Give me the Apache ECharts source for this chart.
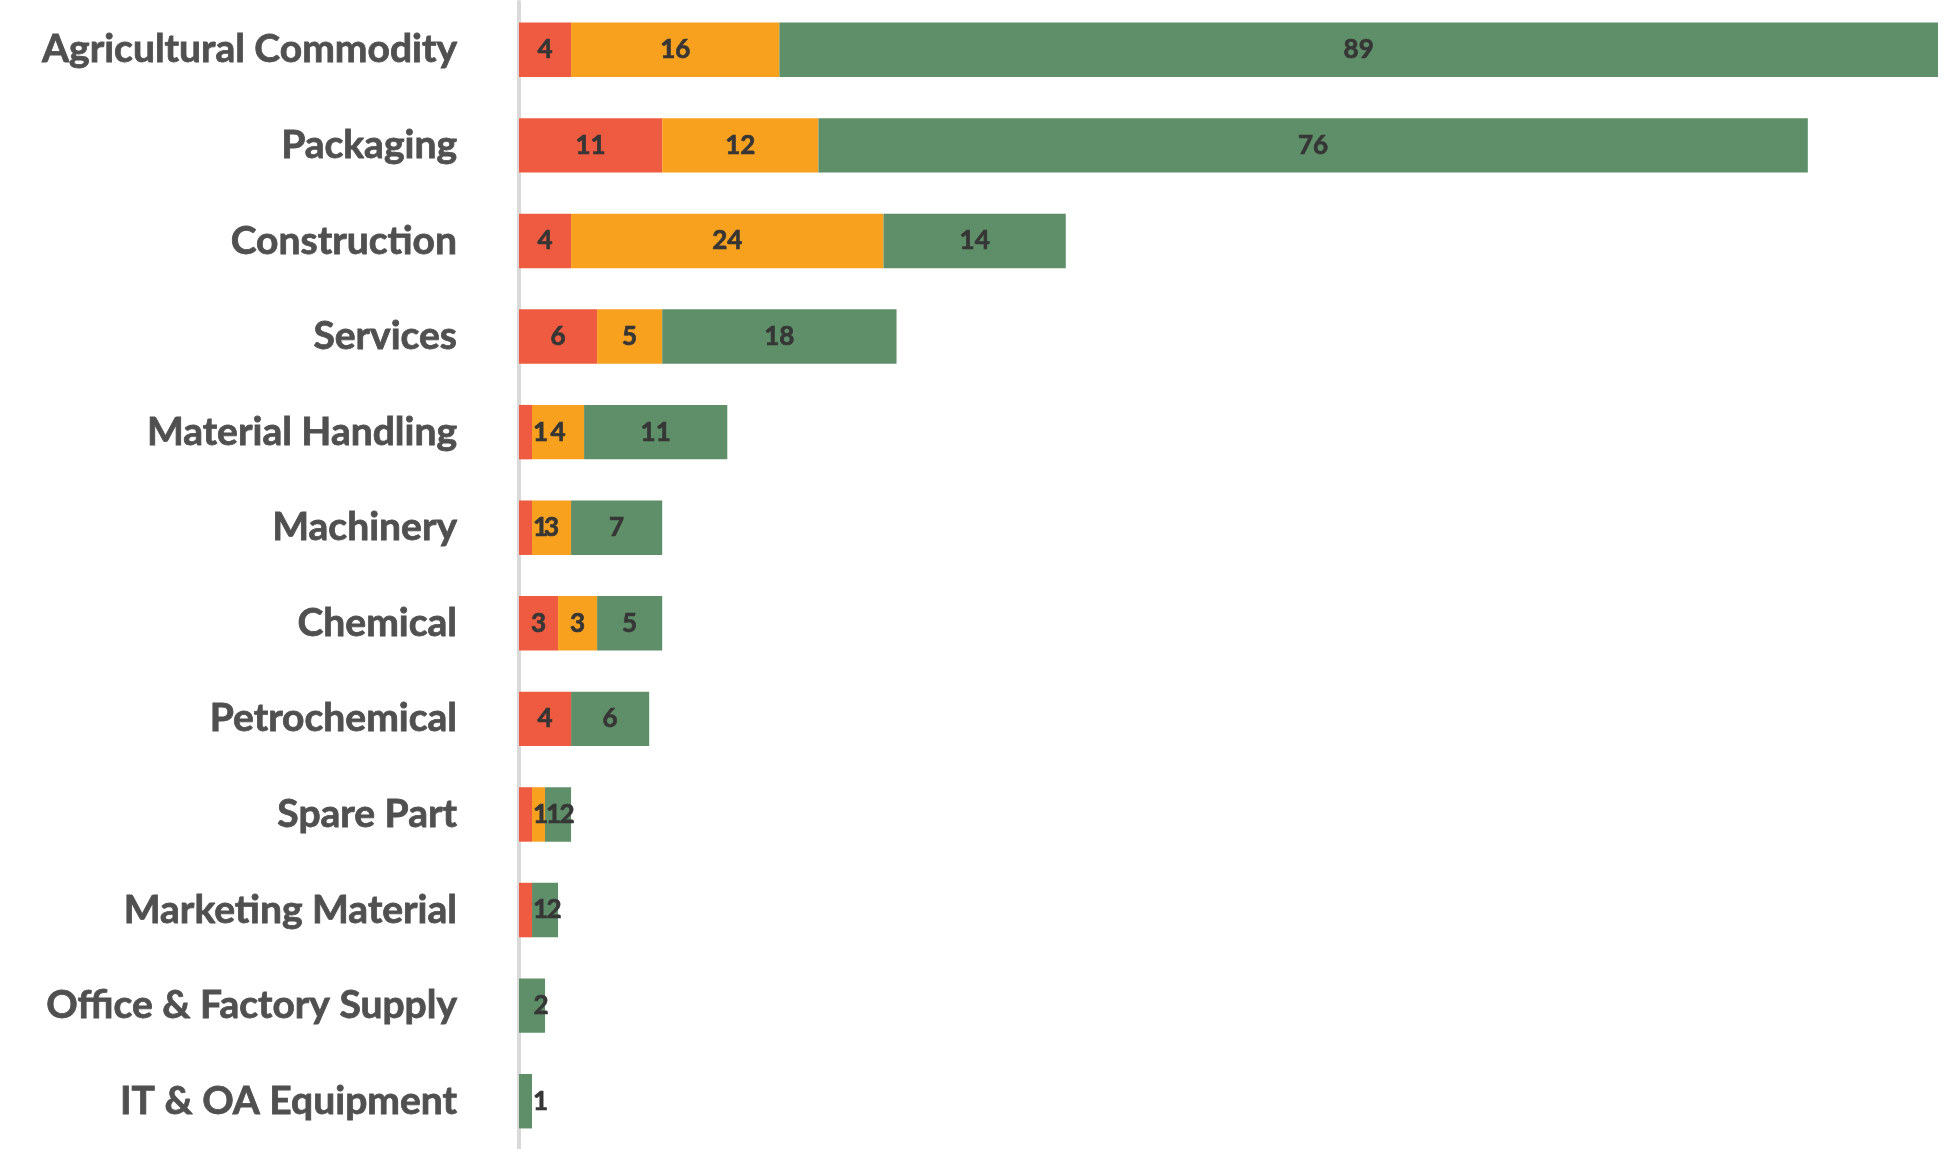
<!DOCTYPE html>
<html>
<head>
<meta charset="utf-8">
<title>Stacked bars by category</title>
<script src="https://cdn.jsdelivr.net/npm/echarts@6/dist/echarts.min.js"></script>
<style>
  html, body { margin: 0; padding: 0; background: #fff; }
  #chart { width: 1947px; height: 1149px; }
</style>
</head>
<body>
<div id="chart"></div>
<script>
var categories = ['Agricultural Commodity', 'Packaging', 'Construction', 'Services',
  'Material Handling', 'Machinery', 'Chemical', 'Petrochemical', 'Spare Part',
  'Marketing Material', 'Office & Factory Supply', 'IT & OA Equipment'];
var redValues    = [4, 11, 4, 6, 1, 1, 3, 4, 1, 1, 0, 0];
var orangeValues = [16, 12, 24, 5, 4, 3, 3, 0, 1, 0, 0, 0];
var greenValues  = [89, 76, 14, 18, 11, 7, 5, 6, 2, 2, 2, 1];

// tiny segments: nudge the label right so it clears the axis line
function withLabels(values) {
  return values.map(function(v) {
    var item = { value: v };
    if (v === 1) { item.label = { offset: [15, 0] }; }
    else if (v === 2) { item.label = { offset: [9, 0] }; }
    return item;
  });
}

function makeSeries(name, values, color) {
  return {
    name: name,
    type: 'bar',
    stack: 'total',
    barCategoryGap: '43%',
    data: withLabels(values),
    itemStyle: { color: color },
    label: {
      show: true,
      position: 'inside',
      color: '#363636',
      fontFamily: 'Lato',
      fontWeight: 'bold',
      fontSize: 26,
      textBorderColor: '#363636',
      textBorderWidth: 0.7,
      formatter: function(p) { return p.value ? String(p.value) : ''; }
    },
    emphasis: { disabled: true }
  };
}

var chart = echarts.init(document.getElementById('chart'));
chart.setOption({
  animation: false,
  backgroundColor: '#ffffff',
  grid: { left: 519, right: 9, top: 2, bottom: 0 },
  xAxis: {
    type: 'value',
    min: 0,
    max: 109,
    show: false,
    splitLine: { show: false }
  },
  yAxis: {
    type: 'category',
    inverse: true,
    data: categories,
    axisTick: { show: false },
    axisLine: { show: true, lineStyle: { color: '#d9d9d9', width: 4 } },
    axisLabel: {
      margin: 62,
      color: '#505050',
      fontFamily: 'Lato',
      fontWeight: 'bold',
      fontSize: 39,
      textBorderColor: '#505050',
      textBorderWidth: 0.8
    }
  },
  series: [
    makeSeries('Red', redValues, '#ee5b40'),
    makeSeries('Orange', orangeValues, '#f8a11f'),
    makeSeries('Green', greenValues, '#5f8f68')
  ]
});
</script>
</body>
</html>
